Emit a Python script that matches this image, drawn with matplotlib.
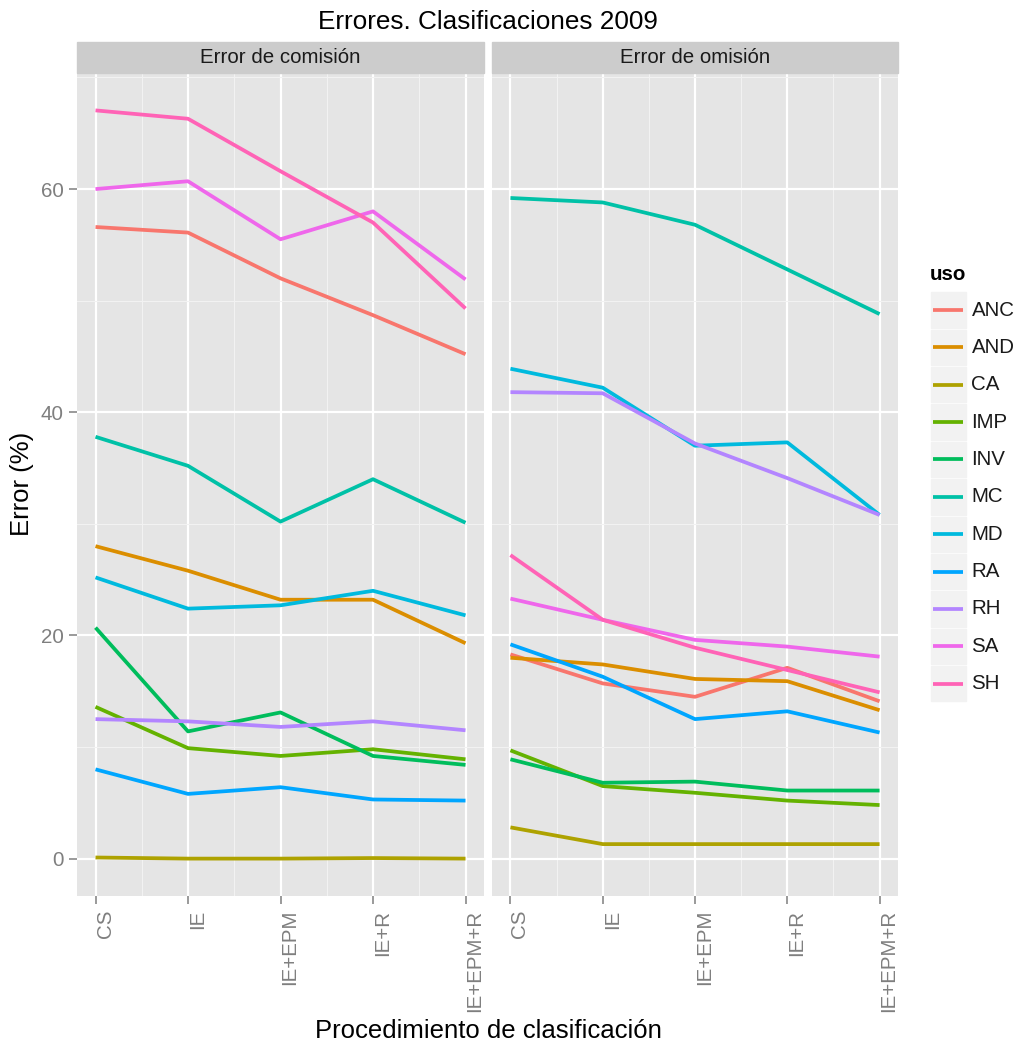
import matplotlib
matplotlib.use("Agg")
import matplotlib.pyplot as plt
from matplotlib.patches import Rectangle
from matplotlib.lines import Line2D

plt.rcParams['font.family'] = ['Liberation Sans', 'DejaVu Sans']

# Datos: procedimientos de clasificación y errores (%) por uso
procedimientos = ['CS', 'IE', 'IE+EPM', 'IE+R', 'IE+EPM+R']
usos = ['ANC', 'AND', 'CA', 'IMP', 'INV', 'MC', 'MD', 'RA', 'RH', 'SA', 'SH']
colores = ['#F8766D', '#DB8E00', '#AEA200', '#64B200', '#00BD5C', '#00C1A7',
           '#00BADE', '#00A6FF', '#B385FF', '#EF67EB', '#FF63B6']

comision_ANC = [56.6, 56.1, 52.0, 48.7, 45.2]
comision_AND = [28.0, 25.8, 23.2, 23.2, 19.3]
comision_CA = [0.1, 0.0, 0.0, 0.05, 0.0]
comision_IMP = [13.6, 9.9, 9.2, 9.8, 8.9]
comision_INV = [20.7, 11.4, 13.1, 9.2, 8.4]
comision_MC = [37.8, 35.2, 30.2, 34.0, 30.1]
comision_MD = [25.2, 22.4, 22.7, 24.0, 21.8]
comision_RA = [8.0, 5.8, 6.4, 5.3, 5.2]
comision_RH = [12.5, 12.3, 11.8, 12.3, 11.5]
comision_SA = [60.0, 60.7, 55.5, 58.0, 51.9]
comision_SH = [67.05, 66.3, 61.6, 57.0, 49.3]

omision_ANC = [18.3, 15.7, 14.5, 17.1, 14.1]
omision_AND = [18.0, 17.4, 16.1, 15.9, 13.3]
omision_CA = [2.8, 1.3, 1.3, 1.3, 1.3]
omision_IMP = [9.7, 6.5, 5.9, 5.2, 4.8]
omision_INV = [8.9, 6.8, 6.9, 6.1, 6.1]
omision_MC = [59.2, 58.8, 56.8, 52.8, 48.8]
omision_MD = [43.9, 42.2, 37.0, 37.3, 30.8]
omision_RA = [19.2, 16.3, 12.5, 13.2, 11.3]
omision_RH = [41.8, 41.7, 37.2, 34.1, 30.8]
omision_SA = [23.3, 21.4, 19.6, 19.0, 18.1]
omision_SH = [27.2, 21.4, 18.9, 16.9, 14.9]

comision = [comision_ANC, comision_AND, comision_CA, comision_IMP, comision_INV,
            comision_MC, comision_MD, comision_RA, comision_RH, comision_SA, comision_SH]
omision = [omision_ANC, omision_AND, omision_CA, omision_IMP, omision_INV,
           omision_MC, omision_MD, omision_RA, omision_RH, omision_SA, omision_SH]

W, H = 1019, 1048
GRIS = '#7F7F7F'
LW = 2.7


def caja(x0, y0, x1, y1):
    # convierte píxeles (origen arriba a la izquierda) a fracción de figura
    return [x0 / W, 1 - y1 / H, (x1 - x0) / W, (y1 - y0) / H]


fig = plt.figure(figsize=(W / 100, H / 100), dpi=100)
ax1 = fig.add_axes(caja(77, 73, 484, 896))
ax2 = fig.add_axes(caja(492, 73, 898, 896), sharey=ax1)

x = list(range(len(procedimientos)))
for ax, datos, faceta in [(ax1, comision, 'Error de comisión'),
                          (ax2, omision, 'Error de omisión')]:
    ax.set_facecolor('#E5E5E5')
    for s in ax.spines.values():
        s.set_visible(False)
    for vals, col in zip(datos, colores):
        ax.plot(x, vals, color=col, lw=LW, solid_capstyle='butt',
                solid_joinstyle='round')
    ax.set_xlim(-0.2, 4.2)
    ax.set_ylim(-3.35, 70.4)
    ax.set_xticks(x)
    ax.set_xticks([0.5, 1.5, 2.5, 3.5], minor=True)
    ax.set_yticks([0, 20, 40, 60])
    ax.set_yticks([10, 30, 50, 70], minor=True)
    ax.set_xticklabels(procedimientos, rotation=90, ha='left')
    ax.grid(which='major', color='white', lw=1.6)
    ax.grid(which='minor', color='#F2F2F2', lw=0.8)
    ax.set_axisbelow(True)
    ax.tick_params(which='major', length=5.8, width=1.1, color=GRIS,
                   labelcolor=GRIS, labelsize=14.8, pad=4)
    ax.tick_params(which='minor', length=0)

    # franja de la faceta
    alto = 31 / 823
    ax.add_patch(Rectangle((0, 1), 1, alto, transform=ax.transAxes,
                           color='#CCCCCC', clip_on=False))
    ax.text(0.5, 1 + alto / 2, faceta, transform=ax.transAxes, ha='center',
            va='center', fontsize=14.8, color='#1A1A1A')

ax2.tick_params(axis='y', which='both', left=False, labelleft=False)

fig.text(488 / W, 1 - 22 / H, 'Errores. Clasificaciones 2009', ha='center',
         va='center', fontsize=18.8)
fig.text(488 / W, 1 - 1031 / H, 'Procedimiento de clasificación', ha='center',
         va='center', fontsize=18.5)
fig.text(22 / W, 1 - 484 / H, 'Error (%)', ha='center', va='center',
         rotation=90, fontsize=18.5)

# leyenda dibujada a mano (cajas grises como en ggplot)
leg = fig.add_axes([0, 0, 1, 1], zorder=-1)
leg.set_xlim(0, W)
leg.set_ylim(H, 0)
leg.axis('off')
leg.text(930, 275, 'uso', fontsize=14.8, fontweight='bold', va='center')
paso = 37.37
for i, (uso, col) in enumerate(zip(usos, colores)):
    top = 292.3 + i * paso
    leg.add_patch(Rectangle((930.7, top), 35, 35.4, color='#F2F2F2'))
    yc = top + 17.7
    leg.add_line(Line2D([933, 963], [yc, yc], color=col, lw=LW,
                        solid_capstyle='butt'))
    leg.text(971.5, yc, uso, fontsize=14.8, va='center', color='#1A1A1A')

fig.savefig('out.png', dpi=100)
